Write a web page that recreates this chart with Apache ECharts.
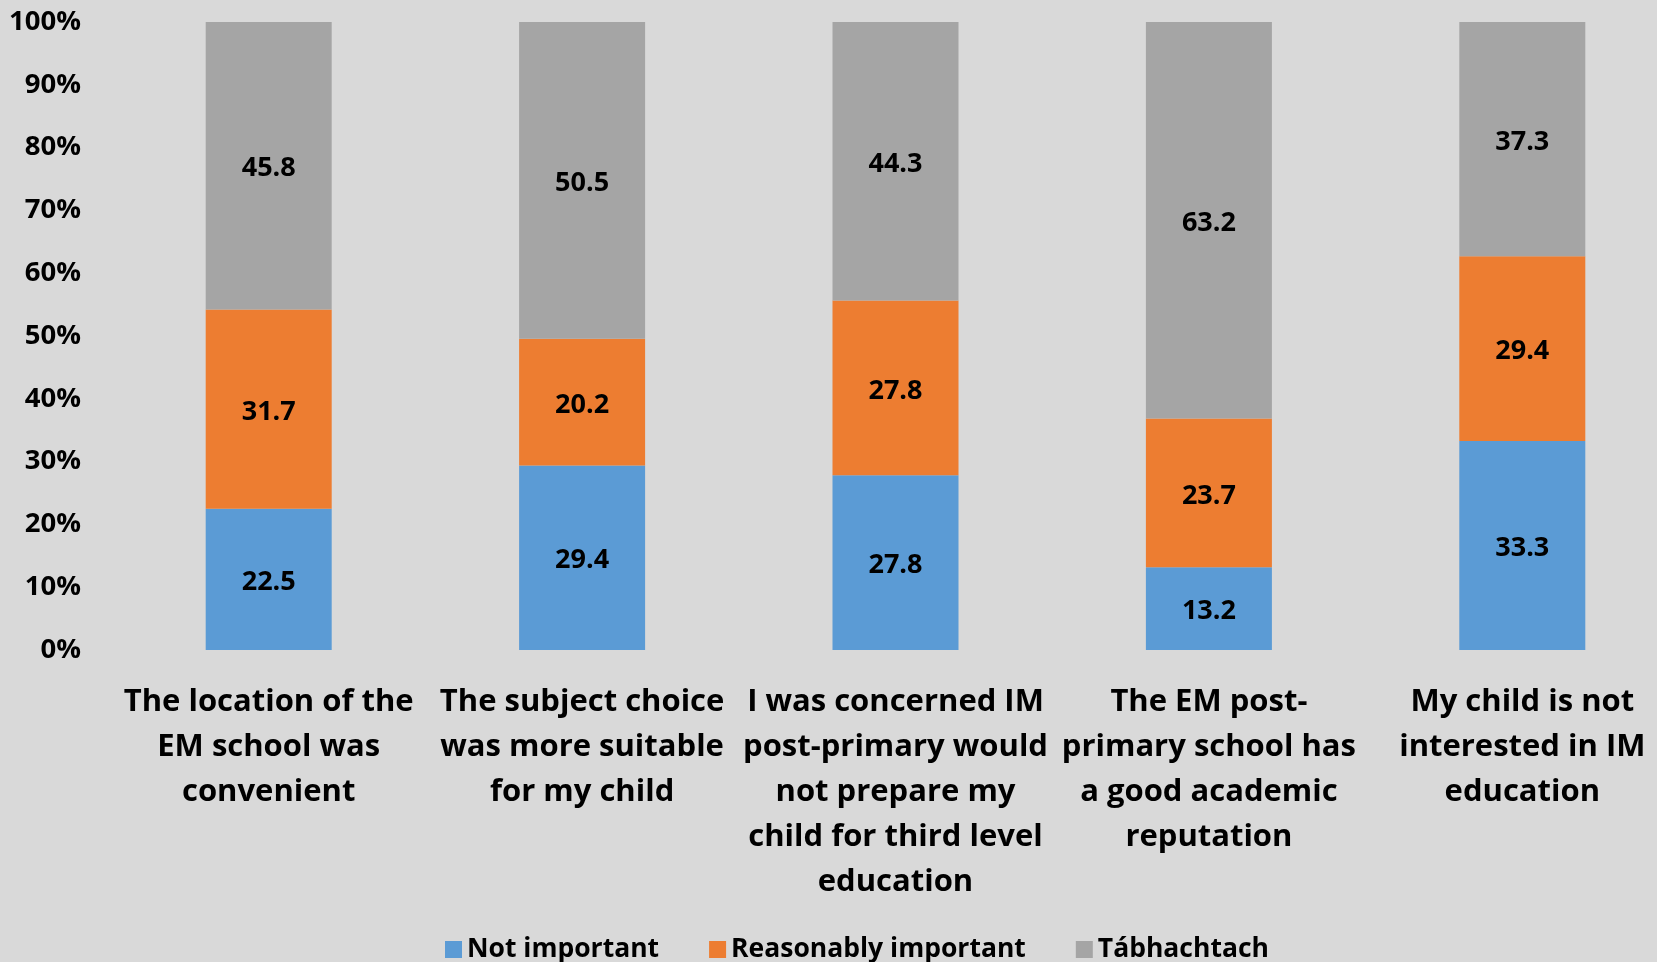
<!DOCTYPE html>
<html>
<head>
<meta charset="utf-8">
<script src="https://cdn.jsdelivr.net/npm/echarts@6/dist/echarts.min.js"></script>
<style>
html,body{margin:0;padding:0;background:#D9D9D9;overflow:hidden;width:1657px;height:962px;}
#chart{width:1700px;height:962px;}
</style>
</head>
<body>
<div id="chart"></div>
<script>
const categories = [
  "The location of the\nEM school was\nconvenient",
  "The subject choice\nwas more suitable\nfor my child",
  "I was concerned IM\npost-primary would\nnot prepare my\nchild for third level\neducation",
  "The EM post-\nprimary school has\na good academic\nreputation",
  "My child is not\ninterested in IM\neducation"
];
const seriesNames = ["Not important", "Reasonably important", "Tábhachtach"];
const notImportant = [22.5, 29.4, 27.8, 13.2, 33.3];
const reasonablyImportant = [31.7, 20.2, 27.8, 23.7, 29.4];
const tabhachtach = [45.8, 50.5, 44.3, 63.2, 37.3];
const yTicks = [0, 10, 20, 30, 40, 50, 60, 70, 80, 90, 100];
const colors = ["#5B9BD5", "#ED7D31", "#A5A5A5"];

const raw = [notImportant, reasonablyImportant, tabhachtach];
const totals = categories.map((_, i) => raw.reduce((s, arr) => s + arr[i], 0));

const FONT = "'Open Sans', 'DejaVu Sans', sans-serif";

const series = raw.map((arr, k) => ({
  name: seriesNames[k],
  type: 'bar',
  stack: 'total',
  barWidth: 126,
  itemStyle: { color: colors[k] },
  data: arr.map((v, i) => ({ value: v / totals[i] * 100, raw: v })),
  label: {
    show: true,
    position: 'inside',
    offset: [0, 3],
    color: '#000',
    fontFamily: FONT,
    fontWeight: 'bold',
    fontSize: 27,
    formatter: p => p.data.raw.toFixed(1)
  }
}));

const chart = echarts.init(document.getElementById('chart'));
chart.setOption({
  backgroundColor: '#D9D9D9',
  animation: false,
  grid: { left: 112, top: 22, width: 1567, height: 628, containLabel: false },
  legend: {
    data: seriesNames,
    left: 440,
    top: 931,
    icon: 'rect',
    itemWidth: 17,
    itemHeight: 17,
    itemGap: 50,
    textStyle: { color: '#000', fontFamily: FONT, fontWeight: 'bold', fontSize: 26.5 }
  },
  xAxis: {
    type: 'category',
    data: categories,
    axisLine: { show: false },
    axisTick: { show: false },
    axisLabel: {
      interval: 0,
      margin: 30,
      color: '#000',
      fontFamily: FONT,
      fontWeight: 'bold',
      fontSize: 31,
      lineHeight: 45,
      align: 'center'
    }
  },
  yAxis: {
    type: 'value',
    min: yTicks[0],
    max: yTicks[yTicks.length - 1],
    interval: 10,
    splitLine: { show: false },
    axisLine: { show: false },
    axisTick: { show: false },
    axisLabel: {
      margin: 31,
      color: '#000',
      fontFamily: FONT,
      fontWeight: 'bold',
      fontSize: 27.5,
      formatter: '{value}%'
    }
  },
  series: series
});
</script>
</body>
</html>
